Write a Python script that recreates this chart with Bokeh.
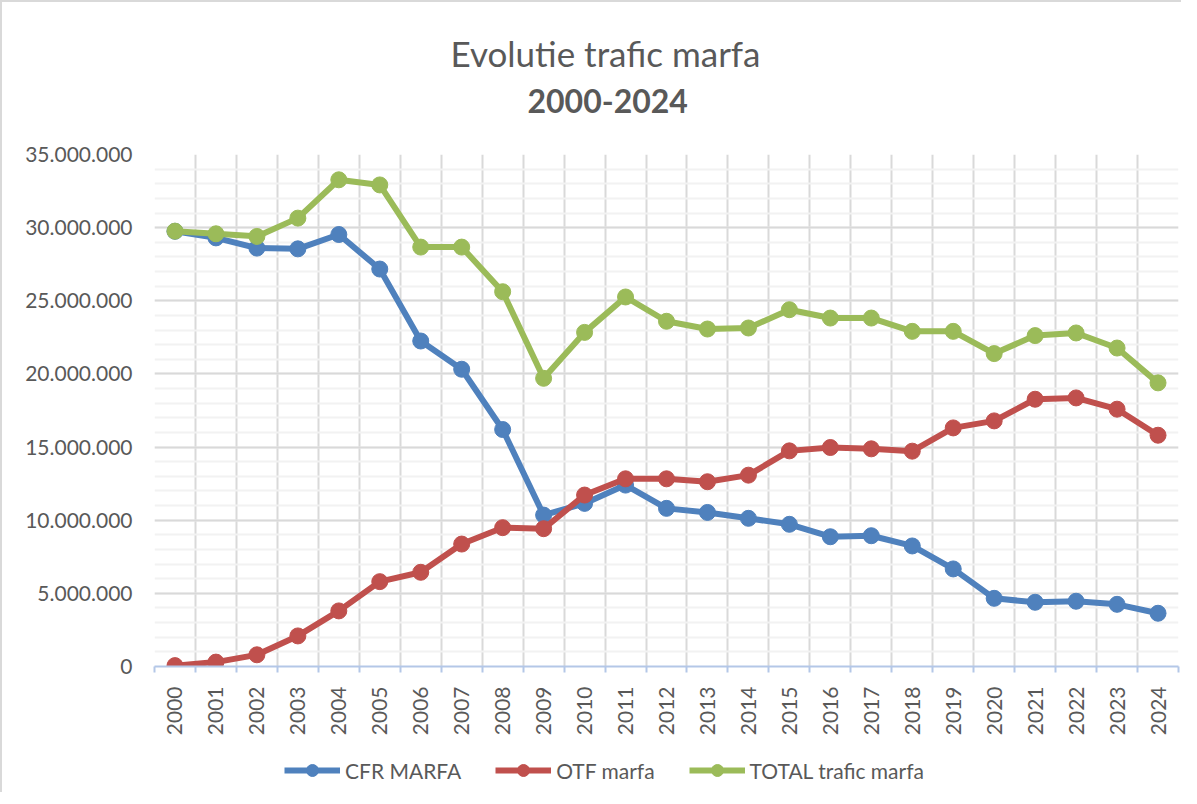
from bokeh.plotting import figure
from bokeh.models import (Range1d, FixedTicker, Title, Legend, LegendItem, LinearAxis)
from bokeh.layouts import column
from bokeh.embed import file_html
from bokeh.resources import INLINE
from math import pi

# ---------------- data ----------------
years = ["2000", "2001", "2002", "2003", "2004", "2005", "2006", "2007", "2008",
         "2009", "2010", "2011", "2012", "2013", "2014", "2015", "2016", "2017",
         "2018", "2019", "2020", "2021", "2022", "2023", "2024"]

cfr_marfa = [29_750_000, 29_300_000, 28_600_000, 28_550_000, 29_530_000, 27_170_000,
             22_250_000, 20_320_000, 16_200_000, 10_350_000, 11_150_000, 12_400_000,
             10_810_000, 10_530_000, 10_130_000, 9_720_000, 8_870_000, 8_940_000,
             8_240_000, 6_670_000, 4_660_000, 4_390_000, 4_460_000, 4_250_000, 3_640_000]

otf_marfa = [60_000, 300_000, 800_000, 2_090_000, 3_800_000, 5_800_000,
             6_440_000, 8_370_000, 9_490_000, 9_420_000, 11_720_000, 12_830_000,
             12_830_000, 12_630_000, 13_080_000, 14_740_000, 14_970_000, 14_880_000,
             14_720_000, 16_310_000, 16_790_000, 18_270_000, 18_360_000, 17_590_000, 15_810_000]

total_marfa = [29_760_000, 29_580_000, 29_400_000, 30_650_000, 33_270_000, 32_920_000,
               28_670_000, 28_670_000, 25_620_000, 19_700_000, 22_840_000, 25_260_000,
               23_600_000, 23_070_000, 23_140_000, 24_390_000, 23_820_000, 23_820_000,
               22_910_000, 22_910_000, 21_390_000, 22_620_000, 22_800_000, 21_770_000, 19_390_000]

y_tick_values = [0, 5_000_000, 10_000_000, 15_000_000, 20_000_000, 25_000_000, 30_000_000, 35_000_000]
y_tick_labels = ["0", "5.000.000", "10.000.000", "15.000.000", "20.000.000",
                 "25.000.000", "30.000.000", "35.000.000"]

series_names = ["CFR MARFA", "OTF marfa", "TOTAL trafic marfa"]
series_colors = ["#4F81BD", "#C0504D", "#9BBB59"]

title_line1 = "Evolutie trafic  marfa"
title_line2 = "2000-2024"

FONT = "Lato"
TEXT = "#595959"

n = len(years)
xs = [i + 0.5 for i in range(n)]
series_values = [cfr_marfa, otf_marfa, total_marfa]

p = figure(frame_width=1024, frame_height=512,
           min_border_left=152, min_border_top=152, min_border_right=3, min_border_bottom=80,
           x_range=Range1d(0, n), y_range=Range1d(0, 35_000_000),
           output_backend="svg", toolbar_location=None)
p.outline_line_color = None
p.background_fill_color = "white"
p.border_fill_color = "white"

# y axis
p.yaxis.ticker = FixedTicker(ticks=y_tick_values,
                             minor_ticks=list(range(0, 35_000_001, 1_000_000)))
p.yaxis.major_label_overrides = {v: l for v, l in zip(y_tick_values, y_tick_labels)}
p.yaxis.axis_line_color = None
p.yaxis.major_tick_line_color = None
p.yaxis.minor_tick_line_color = None
p.yaxis.major_label_text_font = FONT
p.yaxis.major_label_text_font_size = "21px"
p.yaxis.major_label_text_color = TEXT
p.yaxis.major_label_standoff = 16

# x axis
p.xaxis.ticker = FixedTicker(ticks=xs, minor_ticks=list(range(0, n + 1)))
p.xaxis.major_label_overrides = {x: y for x, y in zip(xs, years)}
p.xaxis.major_label_orientation = pi / 2
p.xaxis.axis_line_color = "#B4C7E7"
p.xaxis.axis_line_width = 2
p.xaxis.major_tick_line_color = None
p.xaxis.minor_tick_line_color = "#B4C7E7"
p.xaxis.minor_tick_line_width = 2
p.xaxis.minor_tick_in = 0
p.xaxis.minor_tick_out = 6
p.xaxis.major_label_text_font = FONT
p.xaxis.major_label_text_font_size = "21px"
p.xaxis.major_label_text_color = TEXT
p.xaxis.major_label_standoff = 14

# grids
p.xgrid.ticker = FixedTicker(ticks=list(range(0, n + 1)))
p.xgrid.grid_line_color = "#D9D9D9"
p.xgrid.grid_line_width = 2
p.ygrid.ticker = FixedTicker(ticks=y_tick_values,
                             minor_ticks=list(range(0, 35_000_001, 1_000_000)))
p.ygrid.grid_line_color = "#D9D9D9"
p.ygrid.grid_line_width = 2
p.ygrid.minor_grid_line_color = "#F2F2F2"
p.ygrid.minor_grid_line_width = 2

for vals, col in zip(series_values, series_colors):
    p.line(xs, vals, line_color=col, line_width=6, line_join="round")
    p.scatter(xs, vals, size=16, fill_color=col, line_color=col)

# blank spacer axis between the frame and the titles
spacer = LinearAxis(ticker=FixedTicker(ticks=[n / 2]), axis_line_color=None,
                    major_tick_line_color=None, minor_tick_line_color=None,
                    major_tick_in=0, major_tick_out=37, major_label_standoff=0,
                    major_label_overrides={n / 2: ""}, major_label_text_font_size="1px")
p.add_layout(spacer, "above")

p.add_layout(Title(text=title_line2, align="left", offset=373, standoff=8,
                   vertical_align="middle", text_font=FONT, text_font_size="32px",
                   text_font_style="bold", text_color=TEXT), "above")
p.add_layout(Title(text=title_line1, align="left", offset=296, standoff=18,
                   vertical_align="middle", text_font=FONT, text_font_size="35px",
                   text_font_style="normal", text_color=TEXT), "above")

# ---------------- legend strip (separate small figure) ----------------
# the series are drawn here outside the visible range; only their legend glyphs show
leg_fig = figure(width=1179, height=46, x_range=Range1d(-10, -9), y_range=Range1d(-10, -9),
                 x_axis_location=None, y_axis_location=None,
                 min_border_left=0, min_border_right=0, min_border_top=0, min_border_bottom=0,
                 output_backend="svg", toolbar_location=None)
leg_fig.outline_line_color = None
leg_fig.grid.visible = False
leg_fig.background_fill_color = "white"
leg_fig.border_fill_color = "white"

items = []
for name, vals, col in zip(series_names, series_values, series_colors):
    lr = leg_fig.line(xs, vals, line_color=col, line_width=6)
    sr = leg_fig.scatter(xs, vals, size=16, fill_color=col, line_color=col)
    items.append(LegendItem(label=name, renderers=[lr, sr]))

legend = Legend(items=items, orientation="horizontal", location=(130, 7),
                glyph_width=56, glyph_height=30, label_standoff=5, spacing=34,
                padding=0, margin=0, border_line_color=None, background_fill_alpha=0,
                label_text_font=FONT, label_text_font_size="21px", label_text_color=TEXT)
leg_fig.add_layout(legend)

layout = column(p, leg_fig, spacing=0,
                styles={"border-top": "2px solid #D9D9D9", "border-left": "2px solid #D9D9D9",
                        "background-color": "white"})

open("out.html", "w").write(file_html(layout, INLINE))
